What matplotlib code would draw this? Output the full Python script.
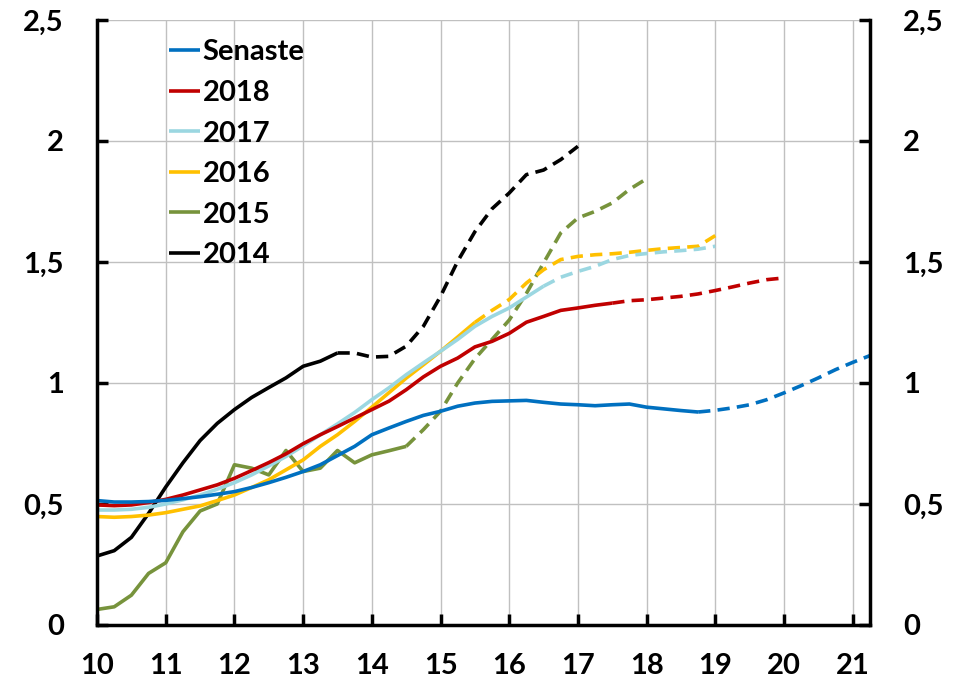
import numpy as np
import matplotlib
matplotlib.use("Agg")
import matplotlib.pyplot as plt

plt.rcParams['font.family'] = ['Lato', 'DejaVu Sans']
plt.rcParams['font.weight'] = 'bold'

# quarterly values, first point at year 10, step 0.25
x_start = 10
x_step = 0.25

senaste = [0.514, 0.508, 0.508, 0.510, 0.515, 0.522, 0.530, 0.540, 0.551,
           0.568, 0.588, 0.610, 0.634, 0.662, 0.700, 0.738, 0.786,
           0.814, 0.841, 0.866, 0.883, 0.904, 0.917, 0.924, 0.926,
           0.928, 0.920, 0.913, 0.910, 0.906, 0.910, 0.913, 0.900,
           0.893, 0.886, 0.880, 0.887, 0.897, 0.910, 0.931, 0.959,
           0.989, 1.021, 1.055, 1.085, 1.113]
y2018 = [0.496, 0.493, 0.496, 0.506, 0.519, 0.537, 0.558, 0.579, 0.606,
         0.638, 0.671, 0.707, 0.749, 0.786, 0.820, 0.855, 0.890,
         0.925, 0.972, 1.025, 1.069, 1.103, 1.149, 1.172, 1.205,
         1.251, 1.275, 1.300, 1.310, 1.321, 1.330, 1.340, 1.344,
         1.351, 1.358, 1.368, 1.382, 1.397, 1.413, 1.427, 1.434]
y2017 = [0.475, 0.475, 0.478, 0.486, 0.500, 0.517, 0.537, 0.561, 0.588,
         0.620, 0.657, 0.696, 0.740, 0.786, 0.831, 0.878, 0.931,
         0.980, 1.034, 1.083, 1.131, 1.180, 1.234, 1.275, 1.310,
         1.355, 1.400, 1.437, 1.461, 1.482, 1.510, 1.527, 1.535,
         1.542, 1.547, 1.553, 1.565]
y2016 = [0.448, 0.445, 0.448, 0.454, 0.464, 0.478, 0.492, 0.514, 0.537,
         0.568, 0.600, 0.641, 0.682, 0.738, 0.786, 0.841, 0.900,
         0.960, 1.020, 1.075, 1.131, 1.190, 1.250, 1.300, 1.345,
         1.413, 1.468, 1.510, 1.523, 1.530, 1.534, 1.540, 1.548,
         1.555, 1.560, 1.565, 1.609]
y2015 = [0.064, 0.075, 0.123, 0.213, 0.257, 0.385, 0.471, 0.500, 0.662,
         0.648, 0.620, 0.721, 0.634, 0.648, 0.721, 0.670, 0.703,
         0.720, 0.738, 0.807, 0.883, 1.000, 1.100, 1.180, 1.260,
         1.370, 1.496, 1.620, 1.682, 1.709, 1.744, 1.800, 1.844]
y2014 = [0.285, 0.307, 0.362, 0.461, 0.570, 0.670, 0.762, 0.833, 0.890,
         0.940, 0.981, 1.021, 1.069, 1.090, 1.124, 1.124, 1.107,
         1.110, 1.152, 1.234, 1.358, 1.503, 1.625, 1.720, 1.785,
         1.861, 1.880, 1.923, 1.978]

labels = ['Senaste', '2018', '2017', '2016', '2015', '2014']
series = [senaste, y2018, y2017, y2016, y2015, y2014]
forecast_from = [18.75, 17.5, 16.5, 15.5, 14.5, 13.5]
colors = ['#0070c0', '#c00000', '#9bd7e1', '#ffc000', '#77933c', '#000000']

y_ticks = [0, 0.5, 1, 1.5, 2, 2.5]
y_ticklabels = ['0', '0,5', '1', '1,5', '2', '2,5']
x_ticks = list(range(10, 22))

fig, ax = plt.subplots(figsize=(9.58, 6.83), dpi=100)
fig.subplots_adjust(left=0.1013, right=0.908, bottom=0.085, top=0.9707)

# draw in reverse so Senaste ends on top
for name, vals, split, col in reversed(list(zip(labels, series, forecast_from, colors))):
    x = x_start + x_step * np.arange(len(vals))
    y = np.array(vals)
    solid = x <= split
    dashed = x >= split
    ax.plot(x[solid], y[solid], color=col, lw=2.6, label=name, solid_capstyle='butt')
    ax.plot(x[dashed], y[dashed], color=col, lw=2.6, linestyle=(0, (3.4, 2.0)))

ax.set_xlim(10, 21.25)
ax.set_ylim(0, 2.5)
ax.set_xticks(x_ticks)
ax.set_yticks(y_ticks)
ax.set_yticklabels(y_ticklabels)

ax.grid(True, color='#c0c0c0', lw=1)
ax.set_axisbelow(True)

ax.spines['top'].set_visible(False)
for side in ['left', 'right', 'bottom']:
    ax.spines[side].set_linewidth(2.5)
    ax.spines[side].set_color('black')

ax.tick_params(axis='both', direction='in', length=8, width=2.5, labelsize=21)
ax.tick_params(axis='x', pad=20)
ax.tick_params(axis='y', right=True, labelright=True, pad=24)

handles, names = ax.get_legend_handles_labels()
order = [names.index(n) for n in labels]
ax.legend([handles[i] for i in order], [names[i] for i in order],
          loc='upper left', bbox_to_anchor=(0.093, 0.968), frameon=False,
          fontsize=21, handlelength=1.05, handletextpad=0.1, labelspacing=0.5,
          borderpad=0, borderaxespad=0)

plt.savefig('out.png', dpi=100)
